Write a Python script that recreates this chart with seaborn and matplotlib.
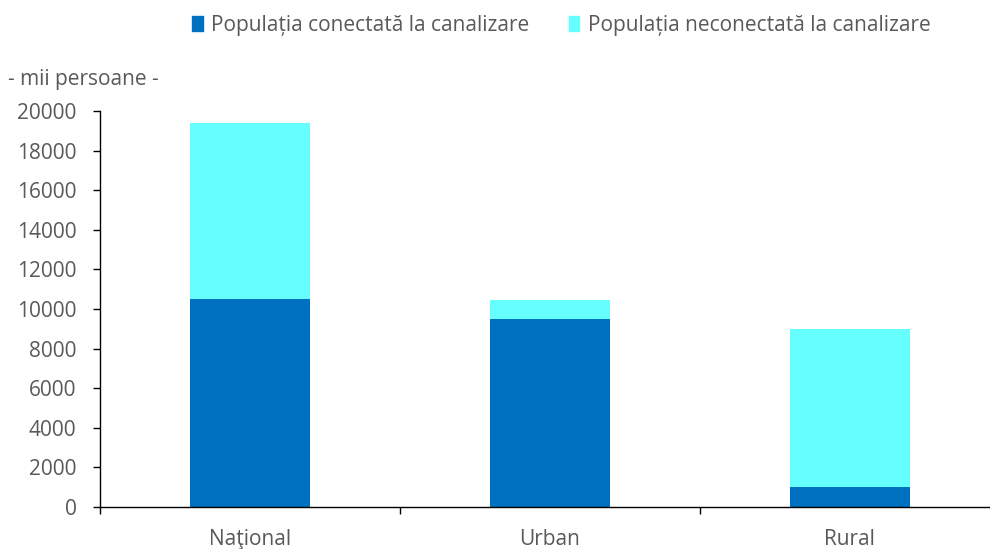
import pandas as pd
import numpy as np
import matplotlib.pyplot as plt
import seaborn as sns
from matplotlib.patches import Patch

# Data (mii persoane)
categories = ['Naţional', 'Urban', 'Rural']
connected = [10500, 9480, 1020]
not_connected = [8900, 960, 7950]

df = pd.DataFrame({'Categorie': categories,
                   'Conectata': connected,
                   'Neconectata': not_connected})
df['Total'] = df['Conectata'] + df['Neconectata']

sns.set_theme(style='white')
plt.rcParams['font.family'] = ['Open Sans', 'DejaVu Sans']
grey = '#595959'

fig = plt.figure(figsize=(9.9, 5.49), dpi=100)
ax = fig.add_axes([0.101, 0.0765, 0.909, 0.7215])

# stacked bars: total first, connected on top of it
sns.barplot(x='Categorie', y='Total', data=df, color='#66FFFF', width=0.4,
            saturation=1, linewidth=0, ax=ax)
sns.barplot(x='Categorie', y='Conectata', data=df, color='#0070C0', width=0.4,
            saturation=1, linewidth=0, ax=ax)

ax.set_ylim(0, 20000)
ax.set_xlim(-0.5, 2.5)
ax.set_yticks(range(0, 20001, 2000))
ax.set_xlabel('')
ax.set_ylabel('')

for s in ['top', 'right']:
    ax.spines[s].set_visible(False)
for s in ['left', 'bottom']:
    ax.spines[s].set_color('black')
    ax.spines[s].set_linewidth(1)

ax.tick_params(axis='y', which='major', left=True, length=5, width=1,
               color='black', labelsize=15, labelcolor=grey, pad=12)
ax.tick_params(axis='x', which='major', length=0, labelsize=15,
               labelcolor=grey, pad=16)
ax.set_xticks([-0.5, 0.5, 1.5, 2.5], minor=True)
ax.tick_params(axis='x', which='minor', bottom=True, length=5, width=1,
               color='black')

fig.text(0.008, 0.855, '- mii persoane -', fontsize=15, color=grey,
         ha='left', va='center')

handles = [Patch(color='#0070C0', label='Populația conectată la canalizare'),
           Patch(color='#66FFFF', label='Populația neconectată la canalizare')]
fig.legend(handles=handles, loc='center', bbox_to_anchor=(0.567, 0.954), ncol=2,
           frameon=False, fontsize=15, labelcolor=grey, handlelength=0.5,
           handleheight=0.8, handletextpad=0.4, columnspacing=1.9)

fig.savefig('out.png', dpi=100)
